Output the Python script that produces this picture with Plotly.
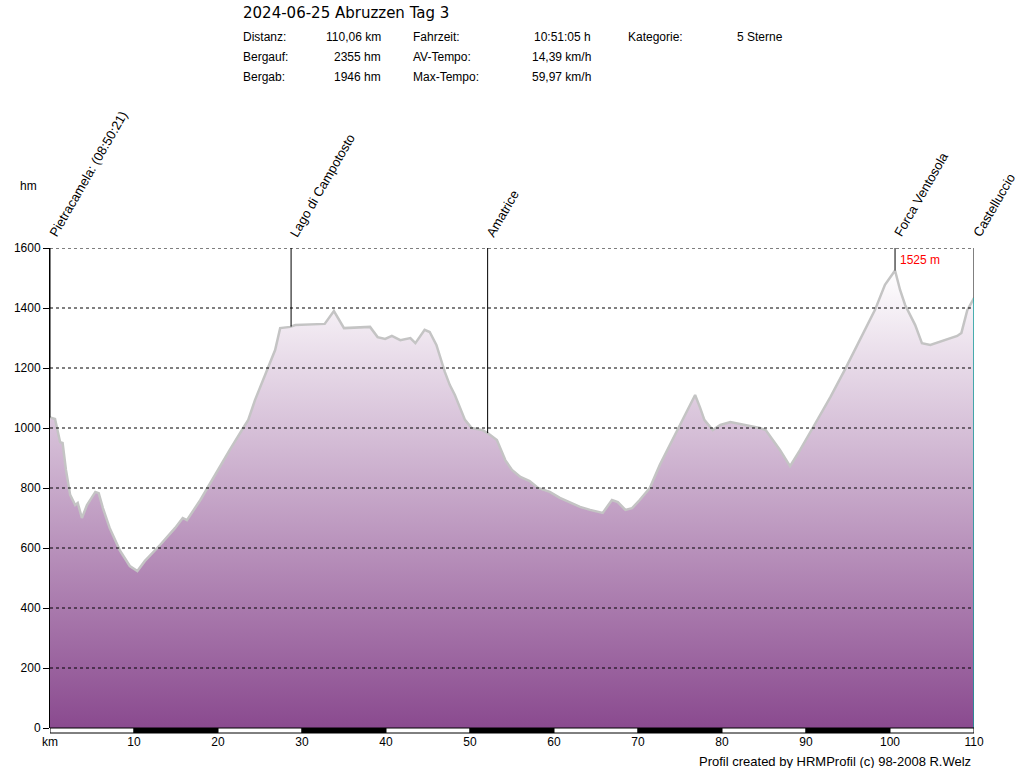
import numpy as np
import plotly.graph_objects as go

# ---- data ----
km = [0, 0.6, 1.2, 1.5, 1.9, 2.4, 3.0, 3.3, 3.8, 4.4, 5.4, 5.8, 6.3, 7.1, 8.3, 9.5, 10.4,
      11.3, 13.1, 14.9, 15.8, 16.3, 17.9, 19.6, 21.4, 23.0, 23.6, 24.4, 25.6, 26.8, 27.4,
      28.6, 29.2, 32.7, 33.8, 35.0, 38.1, 39.0, 39.9, 40.7, 41.7, 42.9, 43.5, 44.6, 45.2,
      46.0, 47.0, 47.6, 48.2, 49.4, 50.2, 51.5, 52.1, 53.2, 54.2, 55.0, 56.0, 57.1, 58.1,
      59.5, 60.7, 61.9, 63.1, 64.3, 65.5, 65.8, 66.9, 67.6, 68.5, 69.3, 70.2, 71.4, 72.6,
      73.8, 75.0, 76.2, 76.8, 77.4, 77.9, 78.9, 79.8, 81.0, 82.7, 84.5, 85.2, 86.9, 88.1,
      89.3, 91.0, 92.9, 94.6, 96.4, 98.2, 99.4, 100.0, 100.6, 101.2, 101.8, 103.0, 103.8,
      104.8, 106.5, 108.0, 108.5, 109.2, 110.0]
elev = [1035, 1030, 953, 950, 860, 777, 743, 750, 700, 743, 787, 783, 733, 667, 593, 540, 523,
        557, 610, 667, 700, 693, 760, 843, 927, 1000, 1027, 1093, 1177, 1260, 1333,
        1337, 1343, 1347, 1390, 1333, 1337, 1303, 1297, 1307, 1293, 1300, 1283, 1327, 1320,
        1277, 1187, 1143, 1110, 1027, 1000, 993, 983, 960, 893, 860, 837, 823, 800,
        787, 767, 753, 737, 727, 717, 717, 760, 753, 727, 733, 760, 800, 877,
        943, 1010, 1077, 1110, 1067, 1027, 993, 1010, 1020, 1010, 1000, 993, 927, 873,
        927, 1010, 1103, 1193, 1293, 1393, 1477, 1503, 1525, 1460, 1410, 1343, 1283,
        1277, 1293, 1307, 1317, 1393, 1433]

waypoint_km = [0, 28.7, 52.1, 100.6, 110.0]
waypoint_names = ["Pietracamela: (08:50:21)", "Lago di Campotosto", "Amatrice",
                  "Forca Ventosola", "Castelluccio"]

y_ticks = [0, 200, 400, 600, 800, 1000, 1200, 1400, 1600]
x_ticks = [0, 10, 20, 30, 40, 50, 60, 70, 80, 90, 100, 110]
x_ticktext = ["km", "10", "20", "30", "40", "50", "60", "70", "80", "90", "100", "110"]

title = "2024-06-25 Abruzzen Tag 3"
stats_labels_1 = ["Distanz:", "Bergauf:", "Bergab:"]
stats_values_1 = ["110,06 km", "2355 hm", "1946 hm"]
stats_labels_2 = ["Fahrzeit:", "AV-Tempo:", "Max-Tempo:"]
stats_values_2 = ["10:51:05 h", "14,39 km/h", "59,97 km/h"]
stats_labels_3 = ["Kategorie:"]
stats_values_3 = ["5 Sterne"]
max_label = "1525 m"
footer = "Profil created by HRMProfil (c) 98-2008 R.Welz"

# ---- layout geometry ----
W, H = 1024, 768
ML, MR, MT, MB = 50, 50, 248, 40
PW, PH = W - ML - MR, H - MT - MB
FONT = "Liberation Sans, Arial, sans-serif"


def px(x):
    return (x - ML) / PW


def py(y):
    return (H - MB - y) / PH


fig = go.Figure()
fig.add_trace(go.Scatter(
    x=km, y=elev, mode="lines",
    line=dict(color="#c4c4c4", width=2.5),
    fill="tozeroy",
    fillgradient=dict(type="vertical", start=0, stop=max(elev),
                      colorscale=[[0, "#8a4a8f"], [1, "#ffffff"]]),
    hoverinfo="skip", showlegend=False,
))

shapes = []
# dashed gridlines above fill
for v in y_ticks[1:]:
    shapes.append(dict(type="line", xref="x", yref="y", x0=0, x1=110, y0=v, y1=v,
                       line=dict(color="black", width=1, dash="3px,3px"), layer="above"))
# waypoint marker lines
for k in waypoint_km:
    e = float(np.interp(k, km, elev))
    shapes.append(dict(type="line", xref="x", yref="y", x0=k, x1=k, y0=e, y1=1600,
                       line=dict(color="black", width=1), layer="above"))
# teal right edge
shapes.append(dict(type="line", xref="x", yref="y", x0=km[-1], x1=km[-1], y0=0, y1=elev[-1],
                   line=dict(color="#119999", width=1.5), layer="above"))
# km scale bar
for i in range(len(x_ticks) - 1):
    shapes.append(dict(type="rect", xref="x", yref="paper",
                       x0=x_ticks[i], x1=x_ticks[i + 1], y0=0, y1=-5 / PH,
                       fillcolor="white" if i % 2 == 0 else "black",
                       line=dict(color="black", width=1), layer="above"))

annotations = []
for k, name in zip(waypoint_km, waypoint_names):
    annotations.append(dict(x=k, y=1600, xref="x", yref="y", text=name, showarrow=False,
                            textangle=-60, xanchor="left", yanchor="bottom",
                            xshift=-7, yshift=6,
                            font=dict(family=FONT, size=13, color="black")))
peak_i = int(np.argmax(elev))
annotations.append(dict(x=km[peak_i], y=1600, xref="x", yref="y", text=max_label,
                        showarrow=False, xanchor="left", yanchor="top", xshift=3, yshift=-3,
                        font=dict(family=FONT, size=12, color="red")))
annotations.append(dict(x=px(18), y=py(186), xref="paper", yref="paper", text="hm",
                        showarrow=False, xanchor="left", yanchor="middle",
                        font=dict(family=FONT, size=12, color="black")))
annotations.append(dict(x=px(241), y=py(13), xref="paper", yref="paper", text=title,
                        showarrow=False, xanchor="left", yanchor="middle",
                        font=dict(family="DejaVu Sans, sans-serif", size=15, color="black")))
rows_y = [37, 57, 77]
cols = [(stats_labels_1, 241, "left"), (stats_values_1, 383, "right"),
        (stats_labels_2, 411, "left"), (stats_values_2, 593, "right"),
        (stats_labels_3, 626, "left"), (stats_values_3, 735, "left")]
for texts, xpos, anchor in cols:
    for t, yy in zip(texts, rows_y):
        annotations.append(dict(x=px(xpos), y=py(yy), xref="paper", yref="paper", text=t,
                                showarrow=False, xanchor=anchor, yanchor="middle",
                                font=dict(family=FONT, size=12, color="black")))
annotations.append(dict(x=px(973), y=py(761), xref="paper", yref="paper", text=footer,
                        showarrow=False, xanchor="right", yanchor="middle",
                        font=dict(family=FONT, size=13, color="black")))

fig.update_layout(
    width=W, height=H, margin=dict(l=ML, r=MR, t=MT, b=MB, pad=0),
    paper_bgcolor="white", plot_bgcolor="white",
    shapes=shapes, annotations=annotations, showlegend=False,
    xaxis=dict(range=[0, 110], tickvals=x_ticks, ticktext=x_ticktext, showgrid=False,
               zeroline=False, showline=False, ticks="", ticklabelstandoff=5,
               tickfont=dict(family=FONT, size=12, color="black"), fixedrange=True),
    yaxis=dict(range=[0, 1600], tickvals=y_ticks, showgrid=False, zeroline=False,
               showline=True, linecolor="black", linewidth=1, ticks="outside", ticklen=6,
               tickcolor="black", tickfont=dict(family=FONT, size=12, color="black"),
               layer="above traces", fixedrange=True),
)

fig.write_html("out.html")
